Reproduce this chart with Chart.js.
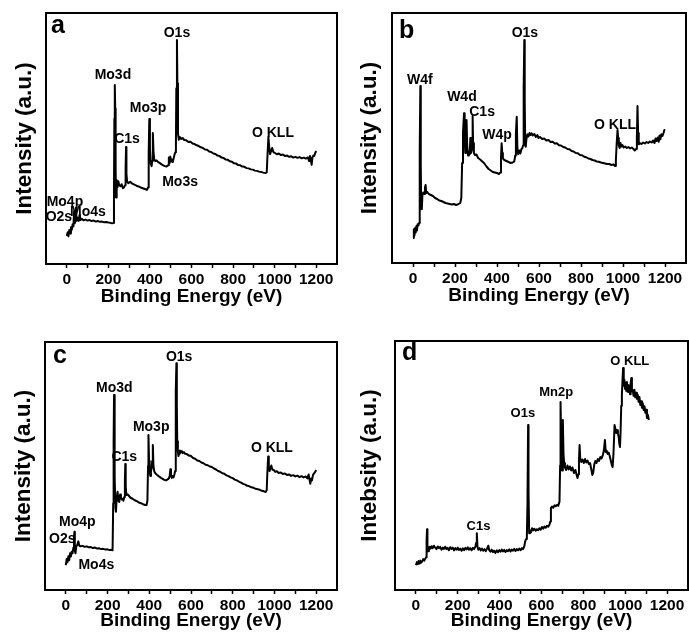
<!DOCTYPE html>
<html>
<head>
<meta charset="utf-8">
<title>XPS survey spectra</title>
<script src="https://cdn.jsdelivr.net/npm/chart.js@4.4.0/dist/chart.umd.min.js"></script>
<style>
  html, body { margin: 0; padding: 0; background: #fff; }
  body { width: 689px; height: 637px; position: relative; overflow: hidden; }
  .panel { position: absolute; }
</style>
</head>
<body>
<div class="panel" id="wrap-a"><canvas id="chart-a"></canvas></div>
<div class="panel" id="wrap-b"><canvas id="chart-b"></canvas></div>
<div class="panel" id="wrap-c"><canvas id="chart-c"></canvas></div>
<div class="panel" id="wrap-d"><canvas id="chart-d"></canvas></div>
<script>
// ---- panel a : Mo oxide survey ----
const ENERGY_A = [0,4,8,12,16,20,24,28,32,35,38,41,44,47,50,54,58,62,66,72,80,90,100,110,120,130,140,150,160,170,180,190,200,210,218,224,227,229,231,233,235,237,240,244,248,252,258,264,270,276,281,283,285,287,290,296,305,315,325,335,345,355,365,375,385,391,394,397,400,404,408,411,414,417,421,426,432,440,448,456,464,472,480,487,491,494,498,502,506,510,514,518,522,525,527,530,532,535,539,544,550,557,565,575,585,595,605,615,625,635,645,655,665,675,685,695,705,715,725,735,745,755,765,775,785,795,805,815,825,835,845,855,865,875,885,895,905,915,925,935,945,955,962,966,970,974,978,983,988,994,1000,1010,1020,1030,1040,1050,1060,1070,1080,1090,1100,1110,1120,1130,1140,1150,1160,1166,1170,1174,1178,1182,1186,1190,1195,1200];
const INTENSITY_A = [11.2,12.6,11.0,13.5,12.2,14.6,13.6,15.8,15.0,20.8,16.2,17.0,22.4,17.6,18.5,17.2,18.0,19.6,17.5,18.0,17.4,17.7,17.3,17.5,17.1,17.3,16.9,17.1,16.8,16.9,16.6,16.7,16.5,16.4,16.2,16.3,30,58,71.3,62,38,26.5,33.5,30.5,33.0,31.5,31.0,31.8,30.2,30.6,31.5,38,46.6,36,33.0,32.2,32.8,32.0,31.6,31.2,30.9,30.5,30.2,29.9,29.5,30.5,44,57.8,46,40,39,41,52.2,45,41.5,41.0,41.3,40.6,40.2,39.7,39.3,39.0,38.8,39.3,42.4,40.0,42.8,40.8,41.6,40.6,42.0,43.5,44.5,47,70,89.2,72,52,49.5,50.6,49.8,50.2,49.4,49.3,48.6,48.7,48.0,47.8,47.3,47.0,46.5,46.2,45.6,45.5,44.8,44.6,44.0,43.8,43.2,43.0,42.4,42.2,41.6,41.5,40.9,40.7,40.1,40.0,39.4,39.3,38.8,38.7,38.2,38.1,37.7,37.6,37.2,37.1,36.8,36.7,36.4,36.2,36.5,44,50.6,46.5,43.8,45.0,46.2,44.6,44.3,43.7,44.0,43.4,43.6,43.0,43.2,42.7,42.9,42.4,42.7,42.3,42.6,42.1,42.4,42.0,42.5,41.0,43.0,41.5,39.5,42.5,43.2,43.0,44.2,45.0];
const PEAKS_A = [['O1s',530,92.0],['Mo3d',222,75.3],['Mo3p',391,62.2],['C1s',290,49.8],['Mo3s',545,32.7],['O KLL',992,52.2],['Mo4p',-9,24.7],['O2s',-38,18.7],['Mo4s',102,20.7]];

// ---- panel b : W oxide survey ----
const ENERGY_B = [0,4,7,10,13,16,19,22,26,29,31,33,35,37,39,42,45,49,53,57,60,63,68,75,85,95,105,115,125,135,145,155,165,175,185,195,205,215,225,230,234,238,243,246,249,252,255,258,262,266,270,273,276,279,282,284,286,290,295,302,310,320,330,340,350,360,370,380,390,400,410,415,419,422,425,428,435,445,455,465,475,482,487,490,494,497,501,506,511,516,521,524,527,530,532,534,537,540,545,550,555,560,565,570,578,585,592,598,605,615,625,635,645,655,665,675,685,695,705,715,725,735,745,755,765,775,785,795,805,815,825,835,845,855,865,875,885,895,905,915,925,935,945,955,962,966,970,974,977,980,984,988,992,997,1003,1010,1018,1026,1034,1042,1050,1056,1062,1066,1069,1072,1075,1080,1088,1096,1104,1112,1120,1128,1136,1144,1150,1155,1160,1165,1170,1174,1178,1183,1188,1193,1197,1200];
const INTENSITY_B = [10.0,13.5,11.0,14.0,12.2,14.8,13.0,15.5,15.0,16.0,16.0,45,70.8,40,22,21.5,27.5,28.2,27.6,30.2,31.2,28.0,28.4,27.6,27.2,26.8,26.0,25.6,25.0,24.8,24.4,24.0,23.8,23.6,23.4,23.6,23.2,23.5,24.0,26,40,52,59.9,50,44,46,57.2,47,43,44.5,43.5,50,44.0,45,50,58.8,48,44.0,43.2,43.4,42.0,41.4,40.6,39.8,38.6,37.6,37.0,36.4,36.2,36.0,35.6,36.2,42,47.9,44,41.8,41.2,40.8,40.4,40.0,40.2,40.6,43,52,58.5,46,43.5,45.0,43.8,45.5,46,47,70,89.2,65,50.5,46.5,49.5,51.5,50.6,52.0,51.2,51.9,51.0,51.6,50.4,51.2,50.0,50.4,49.6,49.8,49.0,49.2,48.4,48.5,47.8,47.9,47.1,47.0,46.4,46.2,45.6,45.5,44.8,44.6,44.0,43.9,43.2,43.1,42.5,42.3,41.8,41.6,41.2,41.0,40.6,40.5,40.2,40.0,39.8,39.6,39.6,39.2,39.4,38.8,41,48,53.2,50,47.0,46.0,48.0,46.6,47.2,46.2,46.6,46.0,46.4,45.8,46.2,45.6,45.0,45.6,50,62.8,52,47.5,48.0,47.6,48.2,47.8,48.4,48.0,48.6,48.2,49.0,48.0,49.8,48.8,50.2,48.5,51.0,49.5,51.5,50.8,52.0,53.2,53.0];
const PEAKS_B = [['O1s',533,92.0],['W4f',33,73.2],['W4d',233,66.4],['C1s',329,60.4],['W4p',400,51.2],['O KLL',962,55.2]];

// ---- panel c : Mo oxide survey (second sample) ----
const ENERGY_C = [0,4,8,12,16,20,24,28,32,36,39,41,43,46,50,55,60,64,70,80,90,100,110,120,130,140,150,160,170,180,190,200,210,218,224,227,229,231,233,235,238,240,244,248,252,256,260,264,268,272,276,280,283,285,287,290,296,302,310,320,330,340,350,360,370,380,387,391,394,396,399,402,405,408,411,414,417,420,424,430,438,448,456,464,472,480,488,494,498,501,504,508,512,516,520,524,526,528,530,532,534,537,540,543,547,551,556,561,566,572,580,590,600,610,620,630,640,650,660,670,680,690,700,710,720,730,740,750,760,770,780,790,800,810,820,830,840,850,860,870,880,890,900,910,920,930,940,950,958,963,966,970,973,977,981,985,990,996,1004,1012,1020,1030,1040,1050,1060,1070,1080,1090,1100,1110,1120,1130,1140,1150,1158,1164,1168,1172,1176,1180,1185,1190,1195,1200];
const INTENSITY_C = [10.0,12.5,11.2,13.6,12.0,14.8,13.5,15.4,14.8,17,21,23.5,16,14.8,17.5,18.2,19.6,18.0,17.6,17.8,17.4,17.6,17.2,17.3,16.9,17.1,16.7,16.8,16.5,16.6,16.3,16.4,16.1,16.2,16.0,35,60,78.6,65,45,33,31.6,37,39.6,36,35.5,38.5,37.2,36.5,36.8,36.0,37.5,44,50.8,42,38.3,38.6,38.0,37.2,36.8,36.2,35.8,35.3,35.0,34.6,34.3,34.3,36,50,62.5,52,47.5,46,48,49,52,58.5,50,47.7,47.0,46.4,45.7,45.2,44.8,44.4,44.2,44.6,45.0,46,48.7,46.5,45.2,46.0,45.4,46.5,48,60,80,91.4,75,60,55.8,54,55.0,56.2,55.4,56.0,55.2,55.6,54.9,54.8,54.2,54.0,53.2,52.9,52.2,52.0,51.4,51.1,50.5,50.3,49.8,49.6,49.0,48.6,48.0,47.7,47.1,46.9,46.2,45.9,45.4,45.1,44.5,44.2,43.7,43.3,42.8,42.5,42.0,41.8,41.4,41.2,40.8,40.6,40.4,40.0,39.8,39.5,40.2,47,53.8,50,48.0,49.2,50.2,48.6,48.4,47.6,47.9,47.2,47.4,46.8,47.0,46.4,46.6,46.0,46.3,45.8,46.1,45.5,45.9,45.4,45.8,45.0,46.6,44.6,42.8,45.0,44.2,46.4,47.0,47.6,48.4];
const PEAKS_C = [['O1s',543,94.0],['Mo3d',232,81.5],['Mo3p',409,65.7],['C1s',280,53.6],['O KLL',988,57.3],['Mo4p',55,27.4],['O2s',-17,20.6],['Mo4s',146,10.1]];

// ---- panel d : Mn oxide survey ----
const ENERGY_D = [0,5,9,13,17,21,25,30,35,40,45,49,51,53,55,58,62,66,70,75,80,86,92,98,104,110,116,122,128,134,140,146,152,158,164,170,176,182,188,194,200,206,212,218,224,230,236,242,248,254,260,266,272,278,284,288,291,294,298,304,310,316,322,328,334,340,346,350,356,362,368,374,380,386,392,398,404,410,416,422,428,434,440,446,452,458,464,470,476,482,488,494,500,506,512,518,522,526,530,533,536,538,541,545,550,555,560,566,572,578,584,590,596,602,608,614,620,626,632,638,642,645,650,656,662,668,674,680,686,689,691,694,698,702,705,708,712,718,724,730,736,742,748,755,762,768,772,776,779,782,785,790,796,802,808,814,820,826,832,838,843,847,852,857,863,869,875,881,887,893,898,903,907,911,916,921,926,931,936,940,944,949,953,957,961,965,969,972,975,978,981,984,987,990,993,996,999,1002,1005,1008,1011,1014,1017,1020,1023,1026,1029,1032,1036,1040,1044,1048,1052,1056,1060,1064,1068,1072,1076,1080,1084,1088,1092,1096,1100,1104,1108,1113];
const INTENSITY_D = [10.0,11.2,10.4,11.6,10.6,11.8,11.0,11.5,12.4,11.8,12.6,13.2,20,24.4,18,15.6,16.4,17.4,16.6,17.6,16.8,17.8,17.0,16.4,17.5,16.8,17.3,16.2,17.0,16.5,17.4,16.4,16.9,16.0,17.2,16.5,17.0,15.9,16.8,16.2,17.0,16.1,16.6,15.8,16.7,16.0,16.9,16.3,17.1,16.2,16.8,16.0,16.9,16.4,17.4,19,22.8,17.5,16.2,16.8,15.9,16.6,15.8,16.4,15.6,16.6,17.8,16.0,15.4,16.2,15.2,15.8,14.9,15.9,15.2,16.0,15.4,16.2,15.5,16.1,15.3,16.0,15.6,16.3,15.5,16.2,15.8,16.5,15.7,16.4,15.9,16.6,16.0,16.8,16.4,17.6,19.5,20.5,21.0,35,66.3,40,22.8,24.0,23.2,24.8,24.0,24.6,23.8,24.4,24.0,24.8,24.2,25.3,24.6,25.5,25.0,25.8,25.4,26.2,27.5,32.9,33.5,33.0,34.0,33.6,34.2,33.8,35.5,50,75.5,60,48,68.3,55,51,49.2,48.2,50.0,48.4,49.6,48.0,49.2,47.0,48.2,46.2,45.0,46.5,52,58.2,53,51.4,52.4,51.0,52.6,51.2,52.0,50.6,51.0,48.4,46.2,47.0,50.4,51.8,51.0,52.6,51.8,53.4,52.8,54.2,56,60.2,55.4,56.0,54.6,55.2,53.8,52.0,50.2,49.4,55,66.3,64.8,63.0,64.2,62.8,61.4,58.6,57.4,64,74,78.3,84,89.2,82,84.4,80.8,83.2,80.0,83.5,79.6,82.2,79.5,81.8,78.6,83.0,85.1,79.8,80.3,78.0,80.4,77.4,79.2,76.8,78.4,75.6,77.5,74.3,75.8,73.2,75.0,72.3,73.8,71.2,72.4,69.1,70.4,68.3];
const PEAKS_D = [['O KLL',1022,91.6],['Mn2p',670,79.5],['O1s',511,71.1],['C1s',299,25.7]];

const X_TICKS = [0, 200, 400, 600, 800, 1000, 1200];

Chart.defaults.font.family = '"Liberation Sans", Arial, sans-serif';
Chart.defaults.color = '#000';

const FONT_TICK = 15.5;
const FONT_XTITLE = 19;
const FONT_YTITLE = 22.5;

// page geometry of each panel: frame = plot box, xTitleY / yTitleX = title centres
const PANELS = [
  { id: 'a', energy: ENERGY_A, counts: INTENSITY_A, peaks: PEAKS_A, yTitle: 'Intensity (a.u.)',
    left: 0, top: 0, width: 345, frame: { l: 46, t: 13, r: 337, b: 264 },
    xTitleY: 297, yTitleX: 25, letterDx: 5, letterDy: 20, peakFont: 14 },
  { id: 'b', energy: ENERGY_B, counts: INTENSITY_B, peaks: PEAKS_B, yTitle: 'Intensity (a.u.)',
    left: 345, top: 0, width: 344, frame: { l: 392, t: 13, r: 686, b: 263 },
    xTitleY: 296, yTitleX: 370, letterDx: 7, letterDy: 25, peakFont: 14 },
  { id: 'c', energy: ENERGY_C, counts: INTENSITY_C, peaks: PEAKS_C, yTitle: 'Intensity (a.u.)',
    left: 0, top: 318, width: 345, frame: { l: 45, t: 342, r: 337, b: 590 },
    xTitleY: 621, yTitleX: 24, letterDx: 8, letterDy: 21, peakFont: 14 },
  { id: 'd', energy: ENERGY_D, counts: INTENSITY_D, peaks: PEAKS_D, yTitle: 'Intebsity (a.u.)',
    left: 345, top: 318, width: 344, frame: { l: 395, t: 341, r: 688, b: 590 },
    xTitleY: 621, yTitleX: 370, letterDx: 7, letterDy: 19, peakFont: 13 },
];

// black box round the plot area
const framePlugin = {
  id: 'frame',
  afterDraw(chart) {
    const { ctx, chartArea: a } = chart;
    ctx.save();
    ctx.strokeStyle = '#000';
    ctx.lineWidth = 2;
    ctx.strokeRect(a.left, a.top, a.right - a.left, a.bottom - a.top);
    ctx.restore();
  }
};

// peak names + panel letter
const labelPlugin = {
  id: 'peakLabels',
  afterDatasetsDraw(chart, args, opts) {
    const { ctx, chartArea: a, scales: { x, y } } = chart;
    ctx.save();
    ctx.fillStyle = '#000';
    ctx.textAlign = 'center';
    ctx.textBaseline = 'middle';
    ctx.font = `bold ${opts.size}px "Liberation Sans", Arial, sans-serif`;
    opts.peaks.forEach(([text, ev, val]) => {
      ctx.fillText(text, x.getPixelForValue(ev), y.getPixelForValue(val));
    });
    ctx.textAlign = 'left';
    ctx.textBaseline = 'alphabetic';
    ctx.font = 'bold 25px "Liberation Sans", Arial, sans-serif';
    ctx.fillText(opts.letter, a.left + opts.dx, a.top + opts.dy);
    ctx.restore();
  }
};

PANELS.forEach(p => {
  const xLine = FONT_XTITLE * 1.2;
  const yLine = FONT_YTITLE * 1.2;
  const height = (p.xTitleY - p.top) + 14;
  const wrap = document.getElementById('wrap-' + p.id);
  wrap.style.left = p.left + 'px';
  wrap.style.top = p.top + 'px';
  wrap.style.width = p.width + 'px';
  wrap.style.height = height + 'px';

  const points = p.energy.map((e, i) => ({ x: e, y: p.counts[i] }));

  new Chart(document.getElementById('chart-' + p.id), {
    type: 'line',
    data: {
      datasets: [{
        data: points,
        borderColor: '#000',
        borderWidth: 2,
        borderJoinStyle: 'round',
        pointRadius: 0,
        tension: 0,
        fill: false,
      }]
    },
    options: {
      responsive: true,
      maintainAspectRatio: false,
      animation: false,
      devicePixelRatio: 1,
      layout: {
        padding: { left: 0, top: p.frame.t - p.top, right: p.left + p.width - p.frame.r, bottom: 0 }
      },
      plugins: {
        legend: { display: false },
        tooltip: { enabled: false },
        peakLabels: { peaks: p.peaks, letter: p.id, dx: p.letterDx, dy: p.letterDy, size: p.peakFont },
      },
      scales: {
        x: {
          type: 'linear',
          min: -100,
          max: 1300,
          afterBuildTicks: s => { s.ticks = s.ticks.filter(t => t.value >= 0 && t.value <= 1200); },
          afterFit: s => { s.height = height - (p.frame.b - p.top); },
          ticks: {
            stepSize: 100,
            autoSkip: false,
            maxRotation: 0,
            padding: 2,
            font: { size: FONT_TICK, weight: 'bold' },
            callback: v => X_TICKS.includes(v) ? String(v) : '',
          },
          grid: { drawOnChartArea: false, drawTicks: true, tickLength: 4, tickColor: '#000', tickWidth: 1.5 },
          border: { display: false },
          title: {
            display: true,
            text: 'Binding Energy (eV)',
            font: { size: FONT_XTITLE, weight: 'bold' },
            padding: { top: 0, bottom: 14 - xLine / 2 },
          },
        },
        y: {
          min: 0,
          max: 100,
          afterFit: s => { s.width = p.frame.l - p.left; },
          ticks: { display: false },
          grid: { display: false },
          border: { display: false },
          title: {
            display: true,
            text: p.yTitle,
            font: { size: FONT_YTITLE, weight: 'bold' },
            padding: { top: p.yTitleX - p.left - yLine / 2, bottom: 0 },
          },
        },
      },
    },
    plugins: [framePlugin, labelPlugin],
  });
});
</script>
</body>
</html>
